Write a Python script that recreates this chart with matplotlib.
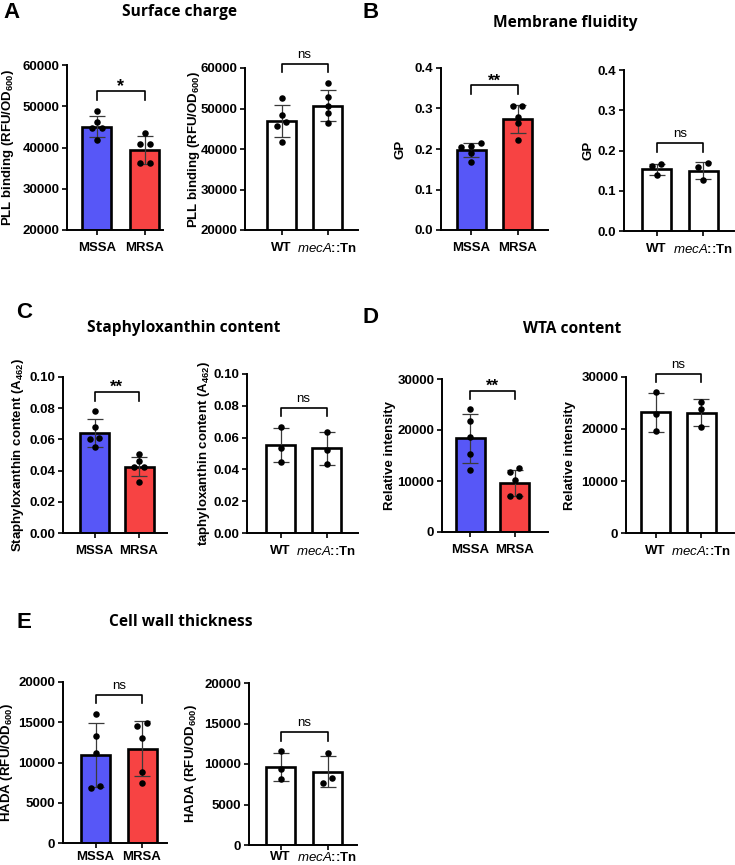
import matplotlib
matplotlib.use("Agg")
import matplotlib.pyplot as plt
import numpy as np

plt.rcParams['font.family'] = ['Liberation Sans', 'DejaVu Sans']
plt.rcParams['mathtext.fontset'] = 'custom'
plt.rcParams['mathtext.rm'] = 'Liberation Sans:bold'
plt.rcParams['mathtext.bf'] = 'Liberation Sans:bold'
plt.rcParams['mathtext.it'] = 'Liberation Sans:italic'
plt.rcParams['mathtext.default'] = 'rm'

######## data ########

strain_labels = ["MSSA", "MRSA"]
mutant_labels = ["WT", r"$\mathit{mecA}$::Tn"]

# A - surface charge (PLL binding)
pll_strain_mean = [45000, 39400]
pll_strain_sd = [2550, 3300]
pll_mssa_pts = [48850, 46100, 44650, 44650, 41800]
pll_mrsa_pts = [43400, 40800, 40800, 36200, 36200]
pll_mut_mean = [46900, 50700]
pll_mut_sd = [3950, 3850]
pll_wt_pts = [52600, 48400, 46700, 45700, 41700]
pll_meca_pts = [56300, 52800, 50600, 48900, 46400]

# B - membrane fluidity (GP)
gp_strain_mean = [0.197, 0.274]
gp_strain_sd = [0.017, 0.035]
gp_mssa_pts = [0.208, 0.214, 0.206, 0.189, 0.169]
gp_mrsa_pts = [0.305, 0.305, 0.280, 0.263, 0.221]
gp_mut_mean = [0.153, 0.150]
gp_mut_sd = [0.014, 0.021]
gp_wt_pts = [0.166, 0.162, 0.139]
gp_meca_pts = [0.170, 0.160, 0.127]

# C - staphyloxanthin content (A462)
stx_strain_mean = [0.0642, 0.0424]
stx_strain_sd = [0.0088, 0.0060]
stx_mssa_pts = [0.0784, 0.0681, 0.0607, 0.0603, 0.0549]
stx_mrsa_pts = [0.0506, 0.0464, 0.0425, 0.0425, 0.0329]
stx_mut_mean = [0.0555, 0.0533]
stx_mut_sd = [0.0107, 0.0104]
stx_wt_pts = [0.0669, 0.0537, 0.0449]
stx_meca_pts = [0.0637, 0.0522, 0.0432]

# D - WTA content
wta_strain_mean = [18400, 9700]
wta_strain_sd = [4800, 2550]
wta_mssa_pts = [24100, 21760, 18700, 15200, 12160]
wta_mrsa_pts = [12480, 11820, 10200, 7060, 7060]
wta_mut_mean = [23200, 23100]
wta_mut_sd = [3800, 2600]
wta_wt_pts = [27060, 22880, 19600]
wta_meca_pts = [25250, 23790, 20330]

# E - cell wall thickness (HADA)
hada_strain_mean = [10900, 11700]
hada_strain_sd = [3950, 3400]
hada_mssa_pts = [16040, 13310, 11240, 6820, 7110]
hada_mrsa_pts = [14960, 14550, 13100, 8760, 7440]
hada_mut_mean = [9650, 9050]
hada_mut_sd = [1730, 1950]
hada_wt_pts = [11550, 9370, 8130]
hada_meca_pts = [11350, 7710, 8250]

######## layout (pixels of the 735x865 figure) ########

W, H = 735, 865
BLUE = '#5757F7'
RED = '#F74343'

fig = plt.figure(figsize=(W / 100, H / 100), dpi=100)


def jitter(values, yrange, thr=0.03, step=0.21):
    # spread points that sit at nearly the same height side by side
    values = np.asarray(values, dtype=float)
    order = np.argsort(values)
    offsets = np.zeros(len(values))
    groups, cur = [], [order[0]]
    for a, b in zip(order[:-1], order[1:]):
        if (values[b] - values[a]) / yrange < thr:
            cur.append(b)
        else:
            groups.append(cur)
            cur = [b]
    groups.append(cur)
    for g in groups:
        n = len(g)
        for i, idx in enumerate(g):
            offsets[idx] = (i - (n - 1) / 2) * step
    return offsets


def panel(box, labels, means, sds, pts, colors, ylim, yticks, fmt, ylabel, label_x, sig, sig_size,
          xpad=5):
    spine_x, c0, c1, end_x, top_y, bot_y = box
    ax = fig.add_axes([spine_x / W, 1 - bot_y / H, (end_x - spine_x) / W, (bot_y - top_y) / H])
    unit = c1 - c0
    ax.set_xlim(-(c0 - spine_x) / unit, 1 + (end_x - c1) / unit)
    ax.set_ylim(*ylim)
    yrange = ylim[1] - ylim[0]
    x = np.arange(2)

    ax.bar(x, means, width=29 / unit, color=colors, edgecolor='black', linewidth=1.9, zorder=2)
    ax.errorbar(x, means, yerr=sds, fmt='none', ecolor='#3a3a3a', elinewidth=0.9,
                capsize=5.5, capthick=0.9, zorder=3)
    for i, p in enumerate(pts):
        ax.scatter(i + jitter(p, yrange), p, s=22, color='black', zorder=4,
                   clip_on=False, linewidths=0)

    # significance bracket
    top = max(max(max(p) for p in pts), max(m + s for m, s in zip(means, sds))) + 0.12 * yrange
    drop = 0.055 * yrange
    ax.plot([0, 0, 1, 1], [top - drop, top, top, top - drop], color='black', lw=1.2,
            clip_on=False, zorder=5)
    if sig == 'ns':
        ax.text(0.5, top + 0.035 * yrange, sig, ha='center', va='baseline', fontsize=9.5)
    else:
        ax.text(0.5, top + 0.0 * yrange, sig, ha='center', va='baseline', fontsize=sig_size,
                fontweight='bold')

    for s in ['top', 'right']:
        ax.spines[s].set_visible(False)
    for s in ['left', 'bottom']:
        ax.spines[s].set_linewidth(1.4)
    ax.set_yticks(yticks)
    ax.set_yticklabels([fmt.format(v) for v in yticks])
    ax.set_xticks(x)
    ax.set_xticklabels(labels)
    ax.tick_params(direction='out', length=3.5, width=1.2, labelsize=9.5)
    ax.tick_params(axis='x', pad=xpad)
    ax.tick_params(axis='y', pad=2)
    for t in ax.get_xticklabels() + ax.get_yticklabels():
        t.set_fontweight('bold')
    ax.patch.set_alpha(0)

    fig.text(label_x / W, 1 - (top_y + bot_y) / 2 / H, ylabel, rotation=90, ha='center',
             va='center', fontsize=9.5, fontweight='bold')
    return ax


white = ['white', 'white']
strain_cols = [BLUE, RED]

# A
panel((67, 96.7, 144.7, 163, 65, 230), strain_labels, pll_strain_mean, pll_strain_sd,
      [pll_mssa_pts, pll_mrsa_pts], strain_cols, (20000, 60000), np.arange(20000, 60001, 10000),
      '{:.0f}', r'PLL binding (RFU/OD$_{600}$)', 8, '*', 13)
panel((245, 281.5, 327.5, 358, 68, 230), mutant_labels, pll_mut_mean, pll_mut_sd,
      [pll_wt_pts, pll_meca_pts], white, (20000, 60000), np.arange(20000, 60001, 10000),
      '{:.0f}', r'PLL binding (RFU/OD$_{600}$)', 194, 'ns', 9)

# B
panel((441, 471, 517.5, 548, 68, 230), strain_labels, gp_strain_mean, gp_strain_sd,
      [gp_mssa_pts, gp_mrsa_pts], strain_cols, (0, 0.4), np.arange(0, 0.41, 0.1),
      '{:.1f}', 'GP', 400, '**', 12)
panel((624, 656.5, 703, 734, 70, 231), mutant_labels, gp_mut_mean, gp_mut_sd,
      [gp_wt_pts, gp_meca_pts], white, (0, 0.4), np.arange(0, 0.41, 0.1),
      '{:.1f}', 'GP', 589, 'ns', 9)

# C
panel((63, 94.5, 139, 167, 377, 533), strain_labels, stx_strain_mean, stx_strain_sd,
      [stx_mssa_pts, stx_mrsa_pts], strain_cols, (0, 0.1), np.arange(0, 0.101, 0.02),
      '{:.2f}', r'Staphyloxanthin content (A$_{462}$)', 18, '**', 12)
panel((247, 280.5, 326.5, 358, 374, 533), mutant_labels, stx_mut_mean, stx_mut_sd,
      [stx_wt_pts, stx_meca_pts], white, (0, 0.1), np.arange(0, 0.101, 0.02),
      '{:.2f}', r'taphyloxanthin content (A$_{462}$)', 204, 'ns', 9)

# D
panel((442, 470.5, 514.5, 548, 379, 532), strain_labels, wta_strain_mean, wta_strain_sd,
      [wta_mssa_pts, wta_mrsa_pts], strain_cols, (0, 30000), np.arange(0, 30001, 10000),
      '{:.0f}', 'Relative intensity', 390, '**', 12)
panel((626, 655.5, 701, 734, 377, 533), mutant_labels, wta_mut_mean, wta_mut_sd,
      [wta_wt_pts, wta_meca_pts], white, (0, 30000), np.arange(0, 30001, 10000),
      '{:.0f}', 'Relative intensity', 570, 'ns', 9)

# E
panel((63, 95.5, 142, 167, 682, 843), strain_labels, hada_strain_mean, hada_strain_sd,
      [hada_mssa_pts, hada_mrsa_pts], strain_cols, (0, 20000), np.arange(0, 20001, 5000),
      '{:.0f}', r'HADA (RFU/OD$_{600}$)', 7, 'ns', 9, xpad=2)
panel((249, 280.5, 327.5, 357, 683, 845), mutant_labels, hada_mut_mean, hada_mut_sd,
      [hada_wt_pts, hada_meca_pts], white, (0, 20000), np.arange(0, 20001, 5000),
      '{:.0f}', r'HADA (RFU/OD$_{600}$)', 191, 'ns', 9, xpad=1)

# panel letters and titles
letters = [('A', 3, 13), ('B', 363, 12), ('C', 16, 312), ('D', 363, 318), ('E', 17, 622)]
for s, px, py in letters:
    fig.text(px / W, 1 - py / H, s, ha='left', va='center', fontsize=16, fontweight='bold')

titles = [('Surface charge', 179, 12), ('Membrane fluidity', 565, 23),
          ('Staphyloxanthin content', 184, 328), ('WTA content', 572, 329),
          ('Cell wall thickness', 181, 622)]
for s, px, py in titles:
    fig.text(px / W, 1 - py / H, s, ha='center', va='center', fontsize=11.2,
             fontweight='bold', family=['Open Sans', 'DejaVu Sans'])

fig.savefig('out.png', dpi=100)
